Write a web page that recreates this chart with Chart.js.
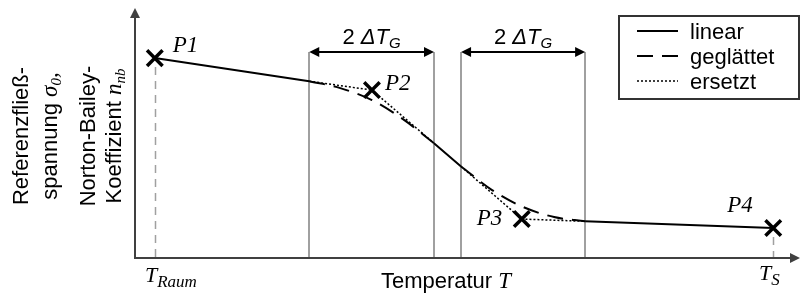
<!DOCTYPE html>
<html>
<head>
<meta charset="utf-8">
<script src="https://cdn.jsdelivr.net/npm/chart.js@4.4.1/dist/chart.umd.min.js"></script>
<style>
  html, body { margin: 0; padding: 0; background: #fff; }
  #wrap { width: 801px; height: 294px; }
</style>
</head>
<body>
<div id="wrap"><canvas id="chart" width="801" height="294"></canvas></div>
<script>
// support points P1..P4 (temperature, value), schematic units 0..100
const pointNames = ['P1', 'P2', 'P3', 'P4'];
const pointT = [3.0, 35.9, 58.6, 96.7];
const pointV = [80.6, 67.7, 15.7, 12.1];

// smoothing zones (T2 +- dT_G, T3 +- dT_G)
const zoneStart = [26.4, 49.4];
const zoneEnd = [45.3, 68.2];
const zoneTop = 83.1;

// linear: only outside the zones
const linearT = [3.0, 26.4, 36.0, 45.3, 49.4, 58.6, 68.2, 96.7];
const linearV = [80.6, 71.3, null, 46.3, 36.9, null, 14.8, 12.1];

// ersetzt: piecewise through P2 / P3 inside the zones
const ersetztT = [26.4, 35.9, 45.3, 47.0, 49.4, 58.6, 68.2];
const ersetztV = [71.3, 67.7, 46.3, null, 36.9, 15.7, 14.8];

// geglättet: smooth curve inside the zones
const glattT = [26.4, 31.1, 35.9, 40.6, 45.3, 47.0, 49.4, 54.1, 58.6, 63.5, 68.2];
const glattV = [71.3, 68.5, 63.7, 56.0, 46.3, null, 36.9, 27.4, 20.8, 16.5, 14.8];

const legendNames = ['linear', 'geglättet', 'ersetzt'];

const sans = '"Liberation Sans", Arial, sans-serif';
const serif = '"Liberation Serif", "Times New Roman", serif';

const toXY = (xs, ys) => xs.map((x, i) => ({ x: x, y: ys[i] }));

function richText(ctx, parts, x, y, align) {
  let w = 0;
  parts.forEach(p => { ctx.font = p.font; w += ctx.measureText(p.t).width; });
  let cx = align === 'center' ? x - w / 2 : x;
  parts.forEach(p => {
    ctx.font = p.font;
    ctx.fillText(p.t, cx, y + (p.dy || 0));
    cx += ctx.measureText(p.t).width;
  });
}

function arrowHead(ctx, tipX, tipY, dir, len, half) {
  // dir: 'left' | 'right' | 'up'
  ctx.beginPath();
  if (dir === 'right') {
    ctx.moveTo(tipX, tipY); ctx.lineTo(tipX - len, tipY - half); ctx.lineTo(tipX - len, tipY + half);
  } else if (dir === 'left') {
    ctx.moveTo(tipX, tipY); ctx.lineTo(tipX + len, tipY - half); ctx.lineTo(tipX + len, tipY + half);
  } else {
    ctx.moveTo(tipX, tipY); ctx.lineTo(tipX - half, tipY + len); ctx.lineTo(tipX + half, tipY + len);
  }
  ctx.closePath();
  ctx.fill();
}

const labelOffsets = [[18, -6], [13, 0], [-45, 6], [-46, -16]];

const schemePlugin = {
  id: 'scheme',
  beforeDatasetsDraw(chart) {
    const { ctx, chartArea: a, scales: { x, y } } = chart;
    ctx.save();
    // zone boundaries
    ctx.strokeStyle = '#a0a0a0';
    ctx.lineWidth = 2;
    zoneStart.concat(zoneEnd).forEach(t => {
      const px = Math.round(x.getPixelForValue(t));
      ctx.beginPath();
      ctx.moveTo(px, y.getPixelForValue(zoneTop));
      ctx.lineTo(px, a.bottom);
      ctx.stroke();
    });
    // drop lines at T_Raum and T_S
    ctx.setLineDash([8, 6]);
    ctx.lineWidth = 1.5;
    [0, 3].forEach(i => {
      const px = Math.round(x.getPixelForValue(pointT[i])) + 0.5;
      ctx.beginPath();
      ctx.moveTo(px, y.getPixelForValue(pointV[i]) + 9);
      ctx.lineTo(px, a.bottom);
      ctx.stroke();
    });
    ctx.setLineDash([]);
    // axes
    ctx.strokeStyle = '#404040';
    ctx.fillStyle = '#404040';
    ctx.lineWidth = 2;
    ctx.beginPath();
    ctx.moveTo(a.left, a.bottom);
    ctx.lineTo(a.left, a.top + 6);
    ctx.moveTo(a.left - 1, a.bottom);
    ctx.lineTo(a.right - 4, a.bottom);
    ctx.stroke();
    arrowHead(ctx, a.left, a.top - 2, 'up', 10, 5);
    arrowHead(ctx, a.right + 5, a.bottom, 'right', 10, 5);
    ctx.restore();
  },
  afterDraw(chart) {
    const { ctx, scales: { x, y } } = chart;
    ctx.save();
    ctx.fillStyle = '#000';
    ctx.strokeStyle = '#000';
    ctx.textBaseline = 'alphabetic';
    // 2 dT_G dimension arrows
    const dy = y.getPixelForValue(zoneTop);
    zoneStart.forEach((t0, i) => {
      const x0 = x.getPixelForValue(t0), x1 = x.getPixelForValue(zoneEnd[i]);
      ctx.lineWidth = 2;
      ctx.beginPath();
      ctx.moveTo(x0 + 6, dy);
      ctx.lineTo(x1 - 6, dy);
      ctx.stroke();
      arrowHead(ctx, x0, dy, 'left', 10, 5);
      arrowHead(ctx, x1, dy, 'right', 10, 5);
      richText(ctx, [
        { t: '2 ', font: '22px ' + sans },
        { t: 'ΔT', font: 'italic 22px ' + sans },
        { t: 'G', font: 'italic 15px ' + sans, dy: 4 }
      ], (x0 + x1) / 2, dy - 8, 'center');
    });
    // point labels
    pointNames.forEach((n, i) => {
      ctx.font = 'italic 23px ' + serif;
      ctx.fillText(n, x.getPixelForValue(pointT[i]) + labelOffsets[i][0],
        y.getPixelForValue(pointV[i]) + labelOffsets[i][1]);
    });
    // x axis labels
    richText(ctx, [
      { t: 'T', font: 'italic 22px ' + serif },
      { t: 'Raum', font: 'italic 17px ' + serif, dy: 5 }
    ], 145, 282, 'left');
    richText(ctx, [
      { t: 'T', font: 'italic 22px ' + serif },
      { t: 'S', font: 'italic 17px ' + serif, dy: 5 }
    ], 759, 280, 'left');
    richText(ctx, [
      { t: 'Temperatur ', font: '22px ' + sans },
      { t: 'T', font: 'italic 23px ' + serif }
    ], 446, 288, 'center');
    // y axis title (rotated)
    const yLines = [
      { bx: 28, parts: [{ t: 'Referenzfließ-', font: '22px ' + sans }] },
      { bx: 57, parts: [{ t: 'spannung ', font: '22px ' + sans }, { t: 'σ', font: 'italic 23px ' + serif },
        { t: '0', font: 'italic 15px ' + serif, dy: 4 }, { t: ',', font: 'italic 23px ' + serif }] },
      { bx: 95, parts: [{ t: 'Norton-Bailey-', font: '22px ' + sans }] },
      { bx: 121, parts: [{ t: 'Koeffizient ', font: '22px ' + sans }, { t: 'n', font: 'italic 23px ' + serif },
        { t: 'nb', font: 'italic 15px ' + serif, dy: 4 }] }
    ];
    yLines.forEach(l => {
      ctx.save();
      ctx.translate(l.bx, 136);
      ctx.rotate(-Math.PI / 2);
      richText(ctx, l.parts, 0, 0, 'center');
      ctx.restore();
    });
    // legend
    ctx.lineWidth = 2;
    ctx.strokeStyle = '#333';
    ctx.strokeRect(619, 16, 180, 83);
    const dashes = [[], [16, 9], [2, 2]];
    const widths = [2, 2, 1.5];
    legendNames.forEach((n, i) => {
      const ly = 31 + i * 25;
      ctx.strokeStyle = '#000';
      ctx.lineWidth = widths[i];
      ctx.setLineDash(dashes[i]);
      ctx.beginPath();
      ctx.moveTo(637, ly);
      ctx.lineTo(678, ly);
      ctx.stroke();
      ctx.setLineDash([]);
      ctx.font = '22px ' + sans;
      ctx.fillText(n, 690, ly + 8);
    });
    ctx.restore();
  }
};

new Chart(document.getElementById('chart').getContext('2d'), {
  type: 'scatter',
  data: {
    datasets: [
      {
        label: 'Punkte',
        data: toXY(pointT, pointV),
        showLine: false,
        pointStyle: 'crossRot',
        pointRadius: 11,
        pointBorderWidth: 3.5,
        pointBorderColor: '#000',
        borderColor: '#000'
      },
      {
        label: legendNames[0],
        data: toXY(linearT, linearV),
        showLine: true,
        spanGaps: false,
        borderColor: '#000',
        borderWidth: 2,
        pointRadius: 0
      },
      {
        label: legendNames[1],
        data: toXY(glattT, glattV),
        showLine: true,
        spanGaps: false,
        cubicInterpolationMode: 'monotone',
        borderColor: '#000',
        borderWidth: 2,
        borderDash: [16, 9],
        pointRadius: 0
      },
      {
        label: legendNames[2],
        data: toXY(ersetztT, ersetztV),
        showLine: true,
        spanGaps: false,
        borderColor: '#000',
        borderWidth: 1.5,
        borderDash: [2, 2],
        pointRadius: 0
      }
    ]
  },
  options: {
    responsive: false,
    animation: false,
    layout: { autoPadding: false, padding: { left: 135, right: 6, top: 10, bottom: 36 } },
    plugins: {
      legend: { display: false },
      tooltip: { enabled: false }
    },
    scales: {
      x: { type: 'linear', min: 0, max: 100, display: false },
      y: { type: 'linear', min: 0, max: 100, display: false }
    }
  },
  plugins: [schemePlugin]
});
</script>
</body>
</html>
